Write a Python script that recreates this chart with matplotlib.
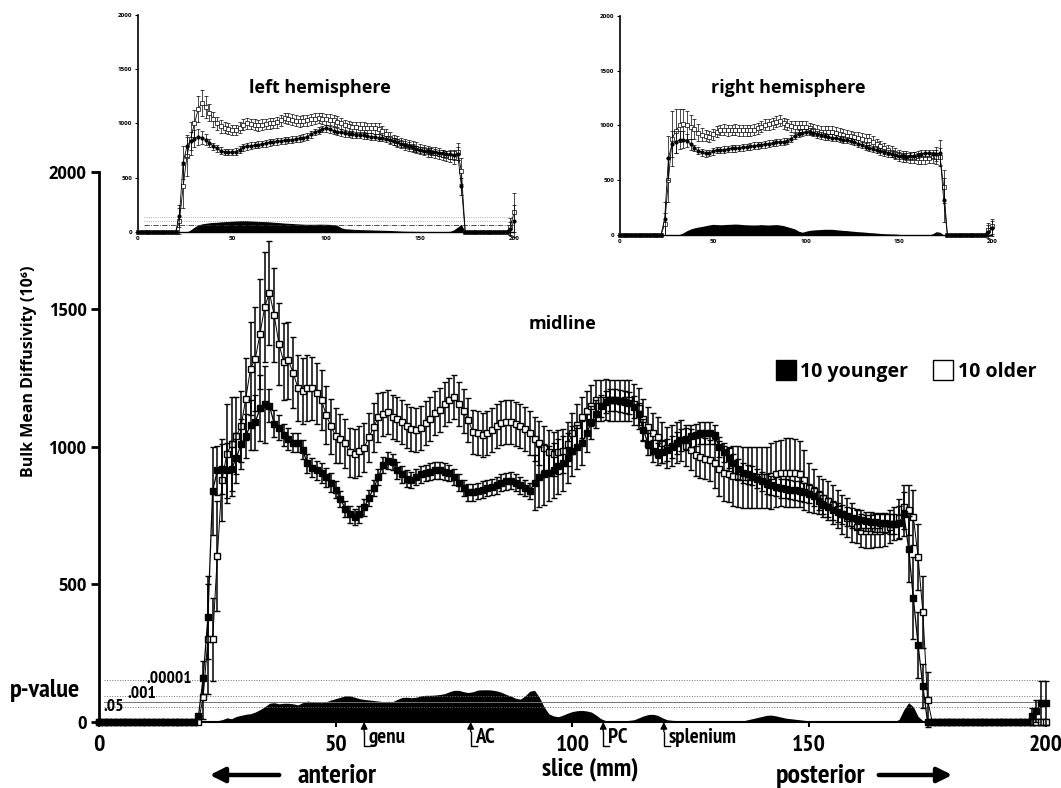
# Bulk mean diffusivity per slice, younger vs older group, with p-value profile
import matplotlib
matplotlib.use('Agg')
import matplotlib.pyplot as plt
from matplotlib import font_manager as fm
from matplotlib.lines import Line2D
from matplotlib.patches import FancyArrowPatch

plt.rcParams['font.family'] = ['Open Sans', 'DejaVu Sans']
plt.rcParams['font.weight'] = 'bold'


def narrow_font():
    # the bottom labels are set in a condensed bold face; use one if installed
    found = []
    for f in fm.fontManager.ttflist:
        w = f.weight if isinstance(f.weight, int) else (700 if 'bold' in str(f.weight) else 400)
        st = str(f.stretch)
        if w >= 600 and ('Narrow' in f.name or 'Condensed' in f.name or 'condensed' in st):
            found.append((0 if 'Narrow' in f.name else 1, f.fname))
    if found:
        found.sort()
        return fm.FontProperties(fname=found[0][1])
    return fm.FontProperties(family=['Roboto', 'DejaVu Sans'], weight='bold')


NARROW = narrow_font()

# ---- midline data, one value per mm (0..200) ----
slices = list(range(201))

young_mid = [0, 0, 0, 0, 0, 0, 0, 0, 0, 0,
             0, 0, 0, 0, 0, 0, 0, 0, 0, 0,
             0, 20, 160, 380, 840, 915, 920, 915, 920, 960,
             1010, 1040, 1080, 1090, 1140, 1155, 1150, 1085, 1070, 1045,
             1030, 1015, 1015, 990, 940, 925, 915, 905, 890, 870,
             845, 810, 775, 755, 745, 755, 780, 815, 850, 890,
             935, 950, 945, 915, 900, 885, 880, 890, 900, 905,
             910, 915, 915, 910, 905, 890, 870, 850, 835, 835,
             840, 845, 850, 855, 860, 870, 875, 878, 870, 860,
             850, 840, 870, 890, 900, 905, 915, 930, 940, 960,
             985, 1000, 1015, 1050, 1090, 1120, 1150, 1165, 1170, 1170,
             1168, 1165, 1160, 1145, 1120, 1060, 1010, 985, 975, 980,
             990, 1000, 1015, 1025, 1030, 1040, 1045, 1050, 1050, 1050,
             1045, 1000, 980, 960, 940, 920, 905, 900, 895, 885,
             875, 865, 860, 855, 850, 848, 845, 842, 840, 835,
             830, 820, 805, 790, 780, 770, 762, 755, 748, 742,
             738, 734, 730, 728, 726, 724, 722, 720, 720, 725,
             755, 630, 450, 280, 130, 0, 0, 0, 0, 0,
             0, 0, 0, 0, 0, 0, 0, 0, 0, 0,
             0, 0, 0, 0, 0, 0, 0, 20, 40, 70,
             70]

young_mid_err = [0, 0, 0, 0, 0, 0, 0, 0, 0, 0,
                 0, 0, 0, 0, 0, 0, 0, 0, 0, 0,
                 0, 10, 60, 150, 160, 90, 90, 100, 100, 90,
                 90, 80, 90, 100, 120, 140, 60, 50, 45, 40,
                 40, 35, 35, 35, 35, 35, 35, 35, 35, 35,
                 30, 30, 30, 30, 30, 30, 30, 30, 30, 30,
                 30, 30, 30, 30, 30, 30, 30, 30, 30, 30,
                 30, 30, 30, 30, 30, 30, 30, 30, 30, 30,
                 30, 30, 30, 30, 30, 30, 30, 30, 30, 30,
                 30, 30, 100, 110, 110, 100, 100, 100, 100, 90,
                 90, 80, 80, 70, 60, 50, 40, 40, 40, 40,
                 40, 40, 40, 40, 40, 40, 40, 40, 40, 40,
                 40, 40, 40, 40, 40, 40, 40, 40, 40, 40,
                 35, 35, 35, 35, 35, 35, 35, 35, 35, 35,
                 35, 35, 35, 35, 35, 35, 35, 35, 35, 35,
                 35, 35, 35, 35, 35, 35, 35, 35, 35, 35,
                 35, 35, 35, 35, 35, 35, 35, 35, 35, 60,
                 80, 120, 150, 120, 80, 0, 0, 0, 0, 0,
                 0, 0, 0, 0, 0, 0, 0, 0, 0, 0,
                 0, 0, 0, 0, 0, 0, 0, 30, 40, 80,
                 80]

old_mid = [0, 0, 0, 0, 0, 0, 0, 0, 0, 0,
           0, 0, 0, 0, 0, 0, 0, 0, 0, 0,
           0, 0, 90, 300, 300, 605, 880, 975, 1010, 1040,
           1075, 1175, 1285, 1320, 1410, 1510, 1560, 1480, 1375, 1310,
           1315, 1270, 1215, 1205, 1213, 1213, 1195, 1170, 1115, 1075,
           1040, 1030, 1013, 980, 976, 985, 998, 1035, 1071, 1108,
           1120, 1126, 1110, 1100, 1090, 1078, 1065, 1060, 1070, 1086,
           1100, 1122, 1135, 1158, 1170, 1180, 1158, 1130, 1097, 1053,
           1050, 1045, 1049, 1060, 1075, 1086, 1090, 1089, 1085, 1078,
           1065, 1049, 1030, 1013, 995, 980, 976, 980, 987, 1010,
           1049, 1080, 1108, 1130, 1150, 1169, 1170, 1172, 1169, 1170,
           1168, 1170, 1169, 1155, 1140, 1100, 1071, 1050, 1035, 1015,
           998, 1005, 1015, 1024, 1005, 990, 970, 962, 958, 951,
           940, 920, 905, 900, 895, 892, 889, 889, 889, 889,
           889, 889, 895, 903, 905, 907, 907, 905, 903, 880,
           852, 840, 825, 815, 805, 790, 775, 755, 743, 725,
           710, 696, 694, 694, 695, 696, 700, 710, 721, 740,
           780, 770, 745, 600, 400, 80, 0, 0, 0, 0,
           0, 0, 0, 0, 0, 0, 0, 0, 0, 0,
           0, 0, 0, 0, 0, 0, 0, 0, 0, 0,
           0]

old_mid_err = [0, 0, 0, 0, 0, 0, 0, 0, 0, 0,
               0, 0, 0, 0, 0, 0, 0, 0, 0, 0,
               0, 0, 80, 200, 150, 200, 150, 180, 170, 140,
               130, 150, 170, 190, 200, 200, 190, 170, 150, 140,
               140, 130, 120, 120, 120, 115, 110, 110, 105, 100,
               100, 90, 90, 90, 90, 90, 90, 90, 90, 90,
               80, 80, 80, 80, 80, 80, 80, 80, 80, 80,
               80, 80, 80, 80, 80, 80, 80, 80, 80, 80,
               80, 80, 80, 80, 80, 80, 80, 80, 80, 80,
               80, 80, 80, 80, 80, 80, 80, 80, 80, 80,
               75, 75, 75, 75, 75, 75, 75, 75, 75, 75,
               75, 75, 75, 75, 75, 75, 75, 75, 75, 75,
               75, 75, 75, 75, 75, 75, 75, 75, 75, 75,
               90, 100, 100, 100, 110, 110, 110, 110, 110, 110,
               110, 110, 120, 120, 120, 125, 125, 125, 120, 110,
               90, 80, 70, 70, 70, 70, 70, 70, 70, 70,
               60, 60, 60, 60, 60, 60, 60, 60, 60, 70,
               80, 90, 100, 120, 130, 100, 0, 0, 0, 0,
               0, 0, 0, 0, 0, 0, 0, 0, 0, 0,
               0, 0, 0, 0, 0, 0, 0, 10, 10, 10,
               10]

p_mid = [0, 0, 0, 0, 0, 0, 0, 0, 0, 0,
         0, 0, 0, 0, 0, 0, 0, 0, 0, 0,
         0, 0, 0, 2, 3, 5, 8, 15, 12, 20,
         24, 28, 30, 36, 45, 55, 68, 70, 66, 68,
         68, 66, 62, 70, 76, 74, 72, 70, 74, 80,
         85, 90, 95, 95, 90, 85, 82, 80, 78, 76,
         74, 75, 74, 82, 89, 90, 88, 90, 95, 97,
         97, 98, 100, 103, 110, 115, 115, 110, 107, 110,
         116, 117, 117, 116, 113, 108, 100, 94, 86, 83,
         95, 112, 115, 90, 55, 30, 22, 19, 25, 32,
         38, 41, 42, 40, 36, 25, 12, 5, 4, 3,
         3, 4, 6, 8, 15, 22, 27, 28, 24, 15,
         8, 6, 5, 4, 4, 3, 3, 3, 2, 1,
         0, 0, 0, 0, 1, 2, 4, 8, 12, 16,
         20, 24, 25, 22, 18, 14, 12, 10, 8, 6,
         4, 3, 2, 2, 2, 2, 2, 2, 1, 1,
         0, 0, 0, 0, 0, 0, 0, 0, 0, 10,
         45, 70, 55, 20, 5, 0, 0, 0, 0, 0,
         0, 0, 0, 0, 0, 0, 0, 0, 0, 0,
         0, 0, 0, 0, 0, 0, 0, 0, 0, 0,
         0]

p_levels = [153, 95, 73, 55]
p_labels = ['.00001', '.001', '', '.05']

landmarks = ['genu', 'AC', 'PC', 'splenium']
landmark_pos = [56, 78.5, 106.5, 119.3]

# ---- hemisphere insets, one value per 2 mm (0..200) ----
slices_h = list(range(0, 201, 2))

young_left = [0, 0, 0, 0, 0, 0, 0, 0, 0, 0,
              0, 150, 640, 790, 840, 860, 875, 870, 850, 820,
              790, 770, 750, 738, 735, 737, 740, 760, 780, 790,
              795, 800, 805, 812, 817, 825, 830, 835, 840, 845,
              848, 852, 858, 862, 870, 880, 900, 920, 935, 950,
              955, 945, 935, 925, 918, 910, 905, 900, 896, 892,
              890, 885, 880, 875, 870, 865, 855, 845, 835, 825,
              815, 805, 795, 780, 765, 756, 750, 745, 740, 735,
              730, 725, 720, 715, 710, 720, 420, 0, 0, 0,
              0, 0, 0, 0, 0, 0, 0, 0, 0, 30,
              100]
young_left_err = [0, 0, 0, 0, 0, 0, 0, 0, 0, 0,
                  0, 100, 150, 100, 80, 80, 70, 60, 50, 40,
                  30, 30, 30, 30, 30, 30, 30, 30, 30, 30,
                  30, 30, 30, 30, 30, 30, 30, 30, 30, 30,
                  30, 30, 30, 30, 30, 30, 30, 30, 30, 30,
                  30, 30, 30, 30, 30, 30, 30, 30, 30, 30,
                  30, 30, 30, 30, 30, 30, 30, 30, 30, 30,
                  30, 30, 30, 30, 30, 30, 30, 30, 30, 30,
                  30, 30, 30, 40, 50, 60, 80, 0, 0, 0,
                  0, 0, 0, 0, 0, 0, 0, 0, 0, 60,
                  150]
old_left = [0, 0, 0, 0, 0, 0, 0, 0, 0, 0,
            0, 100, 420, 700, 860, 1000, 1130, 1190, 1150, 1100,
            1040, 1000, 975, 960, 950, 940, 940, 960, 990, 1000,
            995, 990, 985, 990, 995, 1000, 1005, 1010, 1030, 1050,
            1045, 1035, 1025, 1020, 1025, 1030, 1040, 1045, 1050, 1045,
            1040, 1035, 1030, 1015, 1000, 985, 975, 968, 965, 962,
            960, 958, 958, 955, 950, 930, 900, 870, 848, 835,
            820, 805, 795, 786, 775, 765, 755, 745, 737, 730,
            720, 710, 700, 695, 690, 740, 560, 0, 0, 0,
            0, 0, 0, 0, 0, 0, 0, 0, 0, 50,
            180]
old_left_err = [0, 0, 0, 0, 0, 0, 0, 0, 0, 0,
                0, 120, 200, 180, 150, 120, 120, 120, 100, 80,
                70, 60, 60, 50, 50, 50, 50, 50, 50, 50,
                50, 50, 50, 50, 50, 50, 50, 50, 50, 50,
                50, 50, 50, 50, 50, 50, 50, 50, 50, 50,
                50, 50, 50, 50, 50, 50, 50, 50, 50, 50,
                50, 50, 50, 50, 50, 50, 50, 50, 50, 50,
                50, 50, 50, 50, 50, 50, 50, 50, 50, 50,
                50, 50, 50, 50, 60, 80, 120, 0, 0, 0,
                0, 0, 0, 0, 0, 0, 0, 0, 0, 80,
                180]
p_left = [0, 0, 0, 0, 0, 0, 0, 0, 0, 0,
          0, 0, 0, 0, 20, 45, 65, 75, 80, 85,
          88, 90, 93, 95, 97, 100, 102, 104, 105, 104,
          102, 100, 98, 96, 95, 93, 90, 88, 85, 82,
          80, 78, 76, 74, 72, 71, 71, 71, 72, 72,
          71, 70, 68, 60, 40, 30, 28, 25, 23, 22,
          21, 20, 19, 18, 17, 16, 15, 14, 12, 10,
          8, 7, 6, 6, 5, 5, 4, 4, 4, 4,
          4, 4, 4, 6, 20, 45, 70, 0, 0, 0,
          0, 0, 0, 0, 0, 0, 0, 0, 0, 0,
          0]

young_right = [0, 0, 0, 0, 0, 0, 0, 0, 0, 0,
               0, 0, 150, 700, 830, 850, 868, 870, 860, 830,
               795, 770, 755, 746, 750, 765, 775, 776, 780, 785,
               790, 792, 795, 800, 805, 810, 815, 818, 822, 828,
               835, 840, 845, 850, 852, 860, 880, 905, 925, 935,
               942, 944, 935, 920, 910, 900, 895, 890, 885, 878,
               870, 866, 860, 850, 835, 820, 807, 795, 785, 775,
               765, 755, 746, 740, 732, 725, 720, 715, 718, 725,
               735, 742, 746, 745, 740, 740, 746, 320, 0, 0,
               0, 0, 0, 0, 0, 0, 0, 0, 0, 30,
               60]
young_right_err = [0, 0, 0, 0, 0, 0, 0, 0, 0, 0,
                   0, 0, 150, 200, 120, 100, 80, 80, 60, 50,
                   30, 30, 30, 30, 30, 30, 30, 30, 30, 30,
                   30, 30, 30, 30, 30, 30, 30, 30, 30, 30,
                   30, 30, 30, 30, 30, 30, 30, 30, 30, 30,
                   30, 30, 30, 30, 30, 30, 30, 30, 30, 30,
                   30, 30, 30, 30, 30, 30, 30, 30, 30, 30,
                   30, 30, 30, 30, 30, 30, 30, 30, 30, 30,
                   30, 30, 30, 30, 40, 60, 120, 200, 0, 0,
                   0, 0, 0, 0, 0, 0, 0, 0, 0, 60,
                   70]
old_right = [0, 0, 0, 0, 0, 0, 0, 0, 0, 0,
             0, 0, 100, 500, 880, 950, 1000, 1010, 1005, 990,
             965, 935, 915, 905, 898, 920, 945, 959, 960, 958,
             959, 960, 958, 956, 957, 958, 960, 975, 990, 1005,
             1010, 1020, 1035, 1044, 1020, 1005, 995, 990, 988, 990,
             990, 975, 960, 950, 944, 944, 945, 944, 935, 925,
             915, 905, 900, 895, 890, 880, 872, 868, 850, 830,
             810, 790, 776, 760, 745, 730, 720, 715, 710, 705,
             702, 700, 700, 705, 710, 712, 715, 440, 0, 0,
             0, 0, 0, 0, 0, 0, 0, 0, 0, 50,
             80]
old_right_err = [0, 0, 0, 0, 0, 0, 0, 0, 0, 0,
                 0, 0, 100, 200, 250, 200, 150, 140, 130, 110,
                 90, 80, 60, 50, 50, 50, 50, 50, 50, 50,
                 50, 50, 50, 50, 50, 50, 50, 50, 50, 50,
                 50, 50, 50, 50, 50, 50, 50, 50, 50, 50,
                 50, 50, 50, 50, 50, 50, 50, 50, 50, 50,
                 50, 50, 50, 50, 50, 50, 50, 50, 50, 50,
                 50, 50, 50, 50, 50, 50, 50, 50, 50, 50,
                 50, 50, 50, 50, 50, 60, 80, 150, 0, 0,
                 0, 0, 0, 0, 0, 0, 0, 0, 0, 60,
                 70]
p_right = [0, 0, 0, 0, 0, 0, 0, 0, 0, 0,
           0, 0, 0, 0, 0, 0, 5, 20, 40, 55,
           65, 72, 78, 85, 92, 97, 95, 93, 95, 97,
           98, 100, 98, 95, 93, 92, 91, 92, 95, 92,
           91, 93, 95, 91, 85, 75, 65, 55, 35, 25,
           35, 42, 46, 48, 50, 52, 52, 52, 48, 45,
           42, 40, 36, 33, 30, 28, 25, 22, 20, 17,
           14, 12, 10, 9, 8, 5, 3, 1, 0, 0,
           0, 0, 0, 0, 10, 30, 25, 0, 0, 0,
           0, 0, 0, 0, 0, 0, 0, 0, 0, 0,
           0]
p_levels_left = [140, 100, 62]

fig = plt.figure(figsize=(10.61, 7.88), dpi=100)


def ntext(x, y, s, size, **kw):
    return fig.text(x, y, s, fontproperties=NARROW, fontsize=size, **kw)


def draw_inset(rect, young, young_err, old, old_err, pvals, title, title_xy, levels):
    axi = fig.add_axes(rect)
    axi.set_facecolor('none')
    axi.fill_between(slices_h, 0, pvals, color='black', lw=0, zorder=1)
    for i, lv in enumerate(levels):
        last = i == len(levels) - 1
        axi.plot([3, 200], [lv, lv], color='0.2' if last else '0.6',
                 ls='-.' if last else ':', lw=0.6, zorder=1)
    axi.errorbar(slices_h, old, yerr=old_err, fmt='-s', color='black', mfc='white',
                 mec='black', ms=2.4, mew=0.5, lw=0.6, elinewidth=0.5, capsize=1.2,
                 capthick=0.5, zorder=3)
    axi.errorbar(slices_h, young, yerr=young_err, fmt='-o', color='black', mfc='black',
                 mec='black', ms=2, lw=0.6, elinewidth=0.5, capsize=1.2,
                 capthick=0.5, zorder=4)
    for a in axi.lines + axi.collections:
        a.set_clip_on(False)
    axi.set_xlim(0, 200)
    axi.set_ylim(0, 2000)
    axi.set_xticks([0, 50, 100, 150, 200])
    axi.set_yticks([0, 500, 1000, 1500, 2000])
    for s in ['top', 'right']:
        axi.spines[s].set_visible(False)
    axi.spines['left'].set_linewidth(1.2)
    axi.spines['bottom'].set_linewidth(1.0)
    axi.tick_params(axis='y', length=2.5, width=0.8, labelsize=4.5, pad=1.5)
    axi.tick_params(axis='x', length=0, labelsize=4.5, pad=3)
    fig.text(title_xy[0], title_xy[1], title, ha='center', va='center', fontsize=13,
             fontweight='bold')
    return axi


draw_inset([0.1301, 0.7056, 0.3544, 0.2754], young_left, young_left_err, old_left,
           old_left_err, p_left, 'left hemisphere', (0.3016, 0.888), p_levels_left)
draw_inset([0.5844, 0.7018, 0.3506, 0.2779], young_right, young_right_err, old_right,
           old_right_err, p_right, 'right hemisphere', (0.7427, 0.888), [])

# ---- main midline plot ----
ax = fig.add_axes([0.0933, 0.0838, 0.8925, 0.698])
ax.set_facecolor('none')

ax.fill_between(slices, 0, p_mid, color='black', lw=0, zorder=1)
for lv, lab in zip(p_levels, p_labels):
    ax.plot([1, 200], [lv, lv], color='0.45', ls=':' if lab else '-', lw=0.7, zorder=1)

# significance labels sit on their lines, left of the data
for lab, lx, ly in zip(['.00001', '.001', '.05'], [10.1, 6.1, 0.9], [158, 102, 55]):
    ax.text(lx, ly, lab, fontproperties=NARROW, fontsize=12.5, ha='left', va='center',
            zorder=2)

ax.errorbar(slices, old_mid, yerr=old_mid_err, fmt='-s', color='black', mfc='white',
            mec='black', ms=5, mew=1, lw=0.7, elinewidth=1.1, capsize=2.4,
            capthick=1.1, zorder=3)
ax.errorbar(slices, young_mid, yerr=young_mid_err, fmt='-s', color='black', mfc='black',
            mec='black', ms=5, mew=1, lw=0.9, elinewidth=1.1, capsize=2.4,
            capthick=1.1, zorder=4)
for a in ax.lines + ax.collections:
    a.set_clip_on(False)

ax.set_xlim(0, 200)
ax.set_ylim(0, 2000)
for s in ['top', 'right']:
    ax.spines[s].set_visible(False)
ax.spines['left'].set_linewidth(2)
ax.spines['bottom'].set_linewidth(1.5)
ax.set_yticks([0, 500, 1000, 1500, 2000])
ax.set_xticks([0, 50, 100, 150, 200])
ax.tick_params(axis='y', length=5.5, width=2, labelsize=12, pad=3.5)
ax.tick_params(axis='x', length=3.5, width=1.5, pad=6)
for lab in ax.get_yticklabels():
    lab.set_fontweight('bold')
for lab in ax.get_xticklabels():
    lab.set_fontproperties(NARROW)
    lab.set_fontsize(17)

# anatomical landmarks
for name, xpos in zip(landmarks, landmark_pos):
    ax.annotate('', xy=(xpos, 0), xytext=(xpos, -35),
                arrowprops=dict(arrowstyle='-|>', color='black', lw=1,
                                mutation_scale=10, shrinkA=0, shrinkB=0),
                annotation_clip=False)
    ax.plot([xpos, xpos, xpos + 1.3], [-35, -87, -87], color='black', lw=1,
            clip_on=False)
    ax.text(xpos + 1.0, -55, name, fontproperties=NARROW, fontsize=15,
            ha='left', va='center')

ax.text(0.530, 0.589, 'midline', transform=fig.transFigure, ha='center', va='center',
        fontsize=13, fontweight='bold')

leg_handles = [Line2D([], [], marker='s', ls='none', ms=14, mfc='black', mec='black'),
               Line2D([], [], marker='s', ls='none', ms=14, mfc='white', mec='black',
                      mew=1)]
ax.legend(leg_handles, ['10 younger', '10 older'], ncol=2, frameon=False,
          loc='center', bbox_to_anchor=(0.854, 0.528), bbox_transform=fig.transFigure,
          handletextpad=0.25, columnspacing=1.3, handlelength=1.0,
          prop={'size': 14, 'weight': 'bold'})

# axis texts
fig.text(0.0269, 0.529, 'Bulk Mean Diffusivity (10\u2076)', rotation=90, ha='center',
         va='center', fontsize=11.5, fontweight='bold')
ntext(0.0094, 1 - 690 / 788, 'p-value', 19, ha='left', va='center')
ntext(590 / 1061, 1 - 769 / 788, 'slice (mm)', 19, ha='center', va='center')
ntext(297 / 1061, 1 - 776 / 788, 'anterior', 20, ha='left', va='center')
ntext(821 / 1061, 1 - 776 / 788, 'posterior', 20, ha='center', va='center')
fig.add_artist(FancyArrowPatch((282 / 1061, 1 - 775 / 788), (207 / 1061, 1 - 775 / 788),
                               transform=fig.transFigure, arrowstyle='-|>',
                               mutation_scale=22, lw=3.2, color='black'))
fig.add_artist(FancyArrowPatch((876 / 1061, 1 - 775 / 788), (955 / 1061, 1 - 775 / 788),
                               transform=fig.transFigure, arrowstyle='-|>',
                               mutation_scale=22, lw=3.2, color='black'))

fig.savefig('out.png', dpi=100)
